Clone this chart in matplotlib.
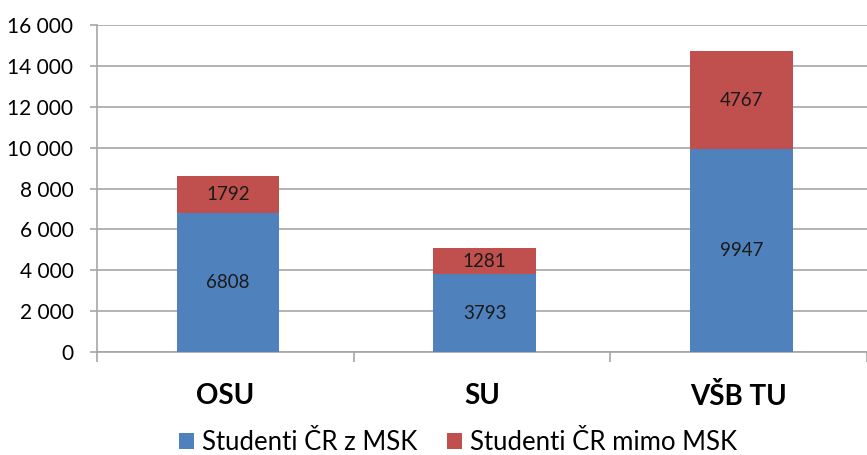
import numpy as np
import matplotlib.pyplot as plt
from matplotlib.ticker import FuncFormatter, FixedLocator

plt.rcParams['font.family'] = ['Lato', 'DejaVu Sans']

schools = ['OSU', 'SU', 'VŠB TU']
msk = [6808, 3793, 9947]
mimo_msk = [1792, 1281, 4767]
series_names = ['Studenti ČR z MSK', 'Studenti ČR mimo MSK']

blue = '#4F81BD'
red = '#C0504D'
grid_col = '#A6A6A6'

fig = plt.figure(figsize=(8.67, 4.55), dpi=100)
ax = fig.add_axes([0.112, 0.2264, 0.888, 0.7186])

x = np.arange(len(schools))
w = 0.40
b1 = ax.bar(x + 0.01, msk, w, color=blue, label=series_names[0], zorder=3)
b2 = ax.bar(x + 0.01, mimo_msk, w, bottom=msk, color=red, label=series_names[1], zorder=3)

# value labels in the middle of each segment
for i in range(len(schools)):
    ax.text(x[i] + 0.01, msk[i] / 2, str(msk[i]), ha='center', va='center',
            fontsize=13.5, color='#1a1a1a', zorder=4)
    ax.text(x[i] + 0.01, msk[i] + mimo_msk[i] / 2, str(mimo_msk[i]), ha='center',
            va='center', fontsize=13.5, color='#1a1a1a', zorder=4)

ax.set_ylim(0, 16000)
ax.set_xlim(-0.5, 2.5)
ax.set_yticks(np.arange(0, 16001, 2000))
ax.yaxis.set_major_formatter(FuncFormatter(lambda v, p: f'{int(v):,}'.replace(',', ' ')))
ax.yaxis.grid(True, color=grid_col, linewidth=1.2, zorder=0)

ax.set_xticks(x)
ax.set_xticklabels(schools, fontsize=20, fontweight='bold')
ax.xaxis.set_minor_locator(FixedLocator([-0.5, 0.5, 1.5, 2.5]))
ax.tick_params(axis='x', which='major', length=0, pad=22)
ax.tick_params(axis='x', which='minor', length=7, color=grid_col, width=1.2)
ax.tick_params(axis='y', length=5, color=grid_col, width=1.2, labelsize=15, pad=12)

for s in ['top', 'right']:
    ax.spines[s].set_visible(False)
for s in ['left', 'bottom']:
    ax.spines[s].set_color(grid_col)
    ax.spines[s].set_linewidth(1.2)

fig.legend(handles=[b1, b2], loc='center', bbox_to_anchor=(0.528, 0.028),
           ncol=2, frameon=False, fontsize=18.5, handlelength=0.6, handleheight=0.6,
           handletextpad=0.3, columnspacing=1.15)

fig.savefig('out.png', dpi=100)
